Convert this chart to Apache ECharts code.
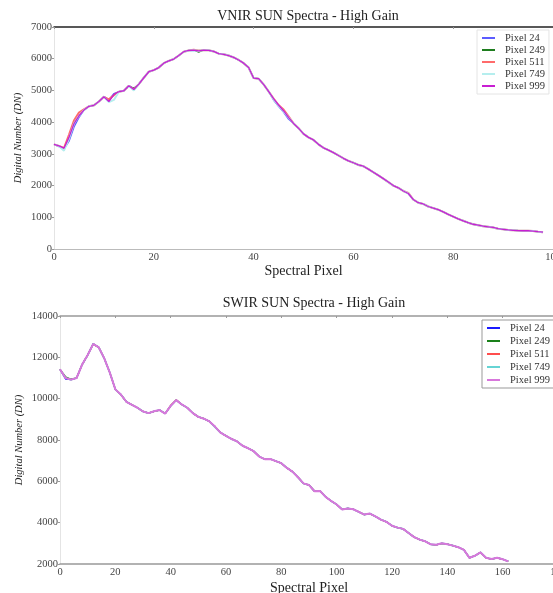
<!DOCTYPE html>
<html>

<head>
    <meta http-equiv="Content-Type" content="text/html; charset=utf-8" />
    <title>SUN Spectra</title>
    <style type="text/css">
        * {
            margin: 0;
            padding: 0
        }

        html,
        body {
            width: 100%;
            height: 100%;
            background: #fff;
        }

        #chart {
            width: 553px;
            height: 593px;
        }
    </style>
</head>

<body>
    <div id="chart"></div>
    <script src="https://cdn.jsdelivr.net/npm/echarts@6/dist/echarts.min.js"></script>
    <script>
        // VNIR: one value per spectral pixel 0..98
        const vnirPixels = Array.from({ length: 99 }, (_, i) => i);
        const vnirPixel24 = [3300, 3230, 3150, 3400, 3850, 4150, 4380, 4500, 4530, 4650, 4800, 4700, 4900, 4960, 4990, 5150, 5060, 5200, 5400, 5590,
            5640, 5720, 5860, 5930, 5990, 6100, 6220, 6260, 6270, 6250, 6270, 6265, 6230, 6160, 6140, 6100, 6040, 5960, 5860, 5720,
            5390, 5370, 5190, 4970, 4700, 4500, 4320, 4100, 3960, 3810, 3630, 3520, 3440, 3300, 3190, 3120, 3040, 2950, 2860, 2780,
            2720, 2650, 2610, 2520, 2420, 2320, 2220, 2110, 2000, 1930, 1830, 1750, 1560, 1460, 1420, 1340, 1290, 1240, 1170, 1090,
            1020, 950, 890, 830, 780, 750, 720, 700, 680, 640, 620, 600, 590, 580, 575, 575, 565, 545, 530];
        const vnirPixel249 = [3300, 3250, 3170, 3520, 4000, 4200, 4380, 4500, 4530, 4650, 4820, 4700, 4870, 4960, 4990, 5120, 5080, 5200, 5400, 5590,
            5640, 5720, 5860, 5930, 5990, 6100, 6220, 6260, 6270, 6200, 6270, 6265, 6230, 6160, 6140, 6100, 6040, 5960, 5860, 5720,
            5390, 5370, 5190, 4970, 4740, 4540, 4360, 4150, 3960, 3810, 3630, 3520, 3440, 3300, 3190, 3120, 3040, 2950, 2860, 2780,
            2720, 2650, 2610, 2520, 2420, 2320, 2220, 2110, 2000, 1930, 1830, 1750, 1560, 1460, 1420, 1340, 1290, 1240, 1170, 1090,
            1020, 950, 890, 830, 780, 750, 720, 700, 680, 640, 620, 600, 590, 580, 575, 575, 565, 545, 530];
        const vnirPixel511 = [3300, 3250, 3180, 3600, 4050, 4300, 4400, 4500, 4530, 4650, 4800, 4720, 4850, 4960, 4990, 5150, 5030, 5200, 5400, 5590,
            5640, 5720, 5860, 5930, 5990, 6100, 6220, 6260, 6280, 6260, 6270, 6265, 6230, 6160, 6140, 6100, 6040, 5960, 5860, 5720,
            5390, 5370, 5190, 4970, 4740, 4540, 4400, 4180, 3960, 3810, 3630, 3520, 3440, 3300, 3190, 3120, 3040, 2950, 2860, 2780,
            2720, 2650, 2610, 2520, 2420, 2320, 2220, 2110, 2000, 1930, 1830, 1770, 1560, 1460, 1420, 1340, 1290, 1240, 1170, 1090,
            1020, 950, 890, 830, 780, 750, 720, 700, 680, 640, 620, 600, 590, 580, 575, 575, 565, 545, 530];
        const vnirPixel749 = [3300, 3250, 3100, 3480, 3950, 4200, 4380, 4500, 4530, 4650, 4800, 4630, 4700, 4960, 4990, 5150, 5000, 5200, 5400, 5590,
            5640, 5720, 5860, 5930, 5990, 6100, 6220, 6260, 6270, 6250, 6270, 6265, 6230, 6160, 6140, 6100, 6040, 5960, 5860, 5720,
            5390, 5370, 5190, 4970, 4720, 4520, 4340, 4150, 3960, 3810, 3630, 3520, 3440, 3300, 3190, 3120, 3040, 2950, 2860, 2780,
            2720, 2650, 2610, 2520, 2420, 2320, 2220, 2110, 2000, 1930, 1830, 1750, 1560, 1460, 1420, 1340, 1290, 1240, 1170, 1090,
            1020, 950, 890, 830, 780, 750, 720, 700, 680, 640, 620, 600, 590, 580, 575, 575, 565, 545, 530];
        const vnirPixel999 = [3300, 3250, 3180, 3520, 3950, 4200, 4380, 4500, 4530, 4650, 4800, 4650, 4870, 4960, 4990, 5150, 5030, 5200, 5400, 5590,
            5640, 5720, 5860, 5930, 5990, 6100, 6220, 6260, 6270, 6250, 6270, 6265, 6230, 6160, 6140, 6100, 6040, 5960, 5860, 5720,
            5390, 5370, 5190, 4970, 4740, 4540, 4360, 4150, 3960, 3810, 3630, 3520, 3440, 3300, 3190, 3120, 3040, 2950, 2860, 2780,
            2720, 2650, 2610, 2520, 2420, 2320, 2220, 2110, 2000, 1930, 1830, 1750, 1560, 1460, 1420, 1340, 1290, 1240, 1170, 1090,
            1020, 950, 890, 830, 780, 750, 720, 700, 680, 640, 620, 600, 590, 580, 575, 575, 565, 545, 530];

        // SWIR: read every second spectral pixel 0..162
        const swirPixels = Array.from({ length: 82 }, (_, i) => i * 2);
        const swirPixel24 = [11420, 10950, 10920, 11000, 11650, 12110, 12650, 12480, 11950, 11260, 10450, 10200, 9850, 9700, 9560, 9380, 9300, 9390, 9450, 9280,
            9650, 9930, 9720, 9560, 9300, 9120, 9030, 8900, 8650, 8360, 8200, 8050, 7930, 7720, 7600, 7460, 7200, 7070, 7080, 6980,
            6880, 6650, 6470, 6200, 5900, 5820, 5520, 5530, 5250, 5050, 4880, 4640, 4690, 4650, 4520, 4390, 4440, 4300, 4150, 4040,
            3850, 3760, 3700, 3500, 3300, 3180, 3100, 2950, 2930, 3000, 2960, 2890, 2810, 2680, 2300, 2400, 2560, 2300, 2240, 2300,
            2230, 2130];
        const swirPixel249 = [11420, 11060, 10940, 11000, 11650, 12110, 12650, 12480, 11950, 11260, 10450, 10200, 9850, 9700, 9560, 9380, 9300, 9390, 9450, 9280,
            9650, 9930, 9720, 9560, 9300, 9120, 9030, 8900, 8650, 8360, 8200, 8050, 7930, 7720, 7600, 7460, 7200, 7070, 7080, 6980,
            6880, 6650, 6470, 6200, 5900, 5820, 5520, 5530, 5250, 5050, 4880, 4640, 4690, 4650, 4520, 4390, 4440, 4300, 4150, 4040,
            3850, 3760, 3700, 3500, 3300, 3180, 3100, 2950, 2930, 3000, 2960, 2890, 2810, 2680, 2300, 2400, 2560, 2300, 2240, 2300,
            2230, 2130];
        const swirPixel511 = [11420, 11000, 10920, 11000, 11650, 12110, 12620, 12480, 11950, 11260, 10450, 10200, 9850, 9700, 9560, 9380, 9300, 9390, 9450, 9280,
            9680, 9950, 9720, 9560, 9300, 9120, 9030, 8900, 8650, 8360, 8200, 8050, 7930, 7720, 7600, 7460, 7200, 7070, 7080, 6980,
            6880, 6650, 6470, 6200, 5900, 5820, 5520, 5530, 5250, 5050, 4880, 4640, 4690, 4650, 4520, 4390, 4440, 4300, 4150, 4040,
            3850, 3760, 3700, 3500, 3300, 3180, 3100, 2950, 2930, 3000, 2960, 2890, 2810, 2680, 2300, 2400, 2560, 2300, 2240, 2300,
            2230, 2130];
        const swirPixel749 = [11420, 11000, 10920, 11000, 11650, 12110, 12650, 12480, 11950, 11260, 10450, 10200, 9850, 9700, 9560, 9380, 9300, 9390, 9450, 9280,
            9650, 9930, 9720, 9560, 9300, 9120, 9030, 8900, 8620, 8360, 8200, 8050, 7930, 7720, 7600, 7460, 7200, 7070, 7080, 6980,
            6880, 6650, 6470, 6200, 5900, 5820, 5520, 5530, 5250, 5050, 4880, 4640, 4690, 4650, 4520, 4390, 4440, 4300, 4150, 4040,
            3850, 3760, 3700, 3500, 3300, 3180, 3100, 2950, 2930, 3000, 2960, 2890, 2810, 2680, 2300, 2400, 2560, 2300, 2240, 2300,
            2230, 2130];
        const swirPixel999 = [11420, 11000, 10920, 11000, 11650, 12110, 12650, 12480, 11950, 11260, 10450, 10200, 9850, 9700, 9560, 9380, 9300, 9390, 9450, 9280,
            9650, 9930, 9720, 9560, 9300, 9120, 9030, 8900, 8650, 8360, 8200, 8050, 7930, 7720, 7600, 7460, 7200, 7070, 7080, 6980,
            6880, 6650, 6470, 6200, 5900, 5820, 5520, 5530, 5250, 5050, 4880, 4640, 4690, 4650, 4520, 4390, 4440, 4300, 4150, 4040,
            3850, 3760, 3700, 3500, 3300, 3180, 3100, 2950, 2930, 3000, 2960, 2890, 2810, 2680, 2300, 2400, 2560, 2300, 2240, 2300,
            2230, 2130];

        const pixelNames = ['Pixel 24', 'Pixel 249', 'Pixel 511', 'Pixel 749', 'Pixel 999'];
        const vnirSeries = [vnirPixel24, vnirPixel249, vnirPixel511, vnirPixel749, vnirPixel999];
        const swirSeries = [swirPixel24, swirPixel249, swirPixel511, swirPixel749, swirPixel999];
        const vnirColors = ['#5c5cff', '#1e7d1e', '#ff6b6b', '#b5eeee', '#c81ed2'];
        const vnirWidths = [1.5, 1, 2, 2, 1.3];
        const swirColors = ['#1a1aff', '#1a801a', '#ff4d4d', '#66d4d4', '#d877dc'];
        const swirWidths = [1.3, 1.3, 1.3, 1.6, 2];

        const serif = "'Liberation Serif', 'DejaVu Serif', serif";

        const pairs = (xs, ys) => xs.map((x, i) => [x, ys[i]]);

        const bottomAxis = (grid, max, gap, lineColor, lineWidth) => ({
            gridIndex: grid, type: 'value', position: 'bottom', min: 0, max: max, interval: 20,
            name: 'Spectral Pixel', nameLocation: 'middle', nameGap: gap,
            nameTextStyle: { fontFamily: serif, fontSize: 14, color: '#222' },
            axisLine: { lineStyle: { color: lineColor, width: lineWidth } },
            axisTick: { show: false },
            axisLabel: { fontFamily: serif, fontSize: 10.5, color: '#444', margin: 3, formatter: v => String(v) },
            splitLine: { show: false }
        });
        // top spine of each frame
        const topAxis = (grid, max, lineColor) => ({
            gridIndex: grid, type: 'value', position: 'top', min: 0, max: max, interval: 20,
            axisLine: { lineStyle: { color: lineColor, width: 1.5 } },
            axisTick: { show: true, inside: true, length: 2, lineStyle: { color: '#999' } },
            axisLabel: { show: false },
            splitLine: { show: false }
        });
        const leftAxis = (grid, min, max, step, gap) => ({
            gridIndex: grid, type: 'value', min: min, max: max, interval: step,
            name: 'Digital Number (DN)', nameLocation: 'middle', nameGap: gap, nameMoveOverlap: false,
            nameTextStyle: { fontFamily: serif, fontStyle: 'italic', fontSize: 10.5, color: '#222' },
            axisLine: { show: true, lineStyle: { color: '#e4e4e4' } },
            axisTick: { show: true, length: 2, lineStyle: { color: '#999' } },
            axisLabel: { fontFamily: serif, fontSize: 10.5, color: '#444', margin: 2, formatter: v => String(v) },
            splitLine: { show: false }
        });

        const legendBox = (left, top, gap, border, colors) => ({
            orient: 'vertical', left: left, top: top, icon: 'rect',
            itemWidth: 13, itemHeight: 2, itemGap: gap,
            padding: [2, 4, 2, 5],
            backgroundColor: '#fff', borderColor: border, borderWidth: 1,
            textStyle: { fontFamily: serif, fontSize: 10.5, color: '#333', lineHeight: 12, padding: [0, 0, 0, 5] },
            selectedMode: false,
            data: pixelNames.map((n, i) => ({ name: n, itemStyle: { color: colors[i] } }))
        });

        const series = [];
        pixelNames.forEach((n, i) => {
            series.push({
                name: n, type: 'line', xAxisIndex: 0, yAxisIndex: 0, showSymbol: false,
                lineStyle: { color: vnirColors[i], width: vnirWidths[i] }, itemStyle: { color: vnirColors[i] },
                data: pairs(vnirPixels, vnirSeries[i])
            });
        });
        pixelNames.forEach((n, i) => {
            series.push({
                name: n, type: 'line', xAxisIndex: 2, yAxisIndex: 1, showSymbol: false,
                lineStyle: { color: swirColors[i], width: swirWidths[i] }, itemStyle: { color: swirColors[i] },
                data: pairs(swirPixels, swirSeries[i])
            });
        });

        const myChart = echarts.init(document.querySelector('#chart'));
        const option = {
            animation: false,
            backgroundColor: '#fff',
            title: [
                { text: 'VNIR SUN Spectra - High Gain', left: 303, top: 4, textAlign: 'center',
                  textStyle: { fontFamily: serif, fontSize: 14, fontWeight: 'normal', color: '#222' } },
                { text: 'SWIR SUN Spectra - High Gain', left: 309, top: 291, textAlign: 'center',
                  textStyle: { fontFamily: serif, fontSize: 14, fontWeight: 'normal', color: '#222' } }
            ],
            grid: [
                { left: 54, top: 27, width: 499, height: 222, outerBoundsMode: 'none' },
                { left: 60, top: 316, width: 498, height: 248, outerBoundsMode: 'none' }
            ],
            xAxis: [
                bottomAxis(0, 100, 12, '#bbb', 1),
                topAxis(0, 100, '#222'),
                bottomAxis(1, 180, 17, '#999', 1.5),
                topAxis(1, 180, '#999')
            ],
            yAxis: [
                leftAxis(0, 0, 7000, 1000, 30),
                leftAxis(1, 2000, 14000, 2000, 35)
            ],
            legend: [
                legendBox(477, 30, 0, '#e4e4e4', vnirColors),
                legendBox(482, 320, 1, '#999', swirColors)
            ],
            series: series
        };
        myChart.setOption(option);
    </script>
</body>

</html>
